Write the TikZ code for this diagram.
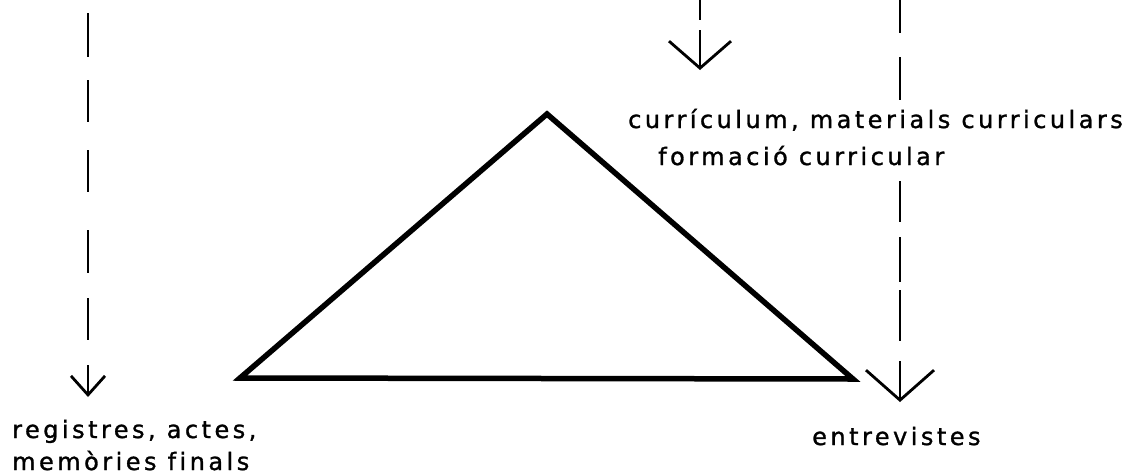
\documentclass[tikz,border=0pt]{standalone}
\usepackage{fontspec}
\setmainfont{DejaVu Sans}[LetterSpace=14.5, Ligatures=NoCommon, FakeBold=1.2]
\usetikzlibrary{arrows.meta}
\tikzset{
  tri/.style={line width=5.5pt, line join=miter},
  flow/.style={line width=2.8pt},
  lbl/.style={anchor=base west, inner sep=0pt, font=\fontsize{24}{30}\selectfont}
}
\begin{document}
\begin{tikzpicture}[x=1pt,y=-1pt]
\useasboundingbox[fill=white] (0,0) rectangle (1133,475);
% triangle
\coordinate (A) at (547,114);
\coordinate (B) at (240,378);
\coordinate (C) at (853,379);
\draw[tri] (A) -- (B) -- (C) -- cycle;
% left dashed arrow
\coordinate (L1) at (88,13);
\coordinate (L2) at (88,397);
\draw[flow, dash pattern=on 44pt off 23pt on 42pt off 28pt on 42pt off 38pt on 43pt off 25pt on 42pt off 25pt on 32pt,
  -{Straight Barb[length=19pt,width=34pt,line width=2.8pt]}] (L1) -- (L2);
% middle dashed arrow
\coordinate (M1) at (700,0);
\coordinate (M2) at (700,70);
\draw[flow, dash pattern=on 20pt off 10pt on 40pt,
  -{Straight Barb[length=27pt,width=62pt,line width=2.8pt]}] (M1) -- (M2);
% right dashed arrow
\coordinate (R1) at (900,0);
\coordinate (R2) at (900,402);
\draw[flow, dash pattern=on 33pt off 24pt on 43pt off 81pt on 41pt off 15pt on 45pt off 8pt on 51pt off 20pt on 41pt,
  -{Straight Barb[length=30pt,width=68pt,line width=2.8pt]}] (R1) -- (R2);
% labels
\node[lbl] (cur1) at (628,128) {currículum, materials curriculars};
\node[lbl] (cur2) at (658,165) {formació curricular};
\node[lbl] (reg1) at (12,438) {registres, actes,};
\node[lbl] (reg2) at (12,470) {memòries finals};
\node[lbl] (ent) at (812,445) {entrevistes};
\end{tikzpicture}
\end{document}
